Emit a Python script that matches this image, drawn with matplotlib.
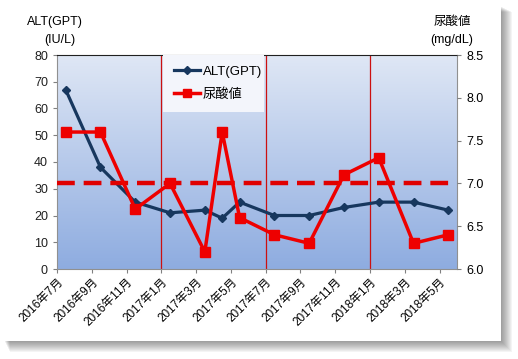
import numpy as np
import matplotlib.pyplot as plt
from matplotlib.patches import Rectangle
from matplotlib.colors import LinearSegmentedColormap

plt.rcParams['font.family'] = ['Liberation Sans', 'Noto Sans CJK JP']

# data (year, month) of each measurement
dates = [(2016, 7), (2016, 9), (2016, 11), (2017, 1), (2017, 3), (2017, 4), (2017, 5),
         (2017, 7), (2017, 9), (2017, 11), (2018, 1), (2018, 3), (2018, 5)]
alt = [67, 38, 25, 21, 22, 19, 25, 20, 20, 23, 25, 25, 22]
uric = [7.6, 7.6, 6.7, 7.0, 6.2, 7.6, 6.6, 6.4, 6.3, 7.1, 7.3, 6.3, 6.4]
tick_labels = ['2016年7月', '2016年9月', '2016年11月', '2017年1月', '2017年3月', '2017年5月',
               '2017年7月', '2017年9月', '2017年11月', '2018年1月', '2018年3月', '2018年5月']
uric_limit = 7.0
marker_months = [(2017, 1), (2017, 7), (2018, 1)]


def month_pos(y, m):
    return (y - 2016) * 12 + (m - 7)


x = [month_pos(y, m) + 0.5 for y, m in dates]

W, H = 518, 359
fig = plt.figure(figsize=(W / 100, H / 100), dpi=100)
fig.patch.set_facecolor('white')

# soft drop shadow behind the white card
for k in range(11):
    ext = 11 - k
    x0, y0 = 4 + ext * 0.5, 6 + ext * 0.5
    x1, y1 = 501 + ext, 341 + ext
    fig.patches.append(Rectangle((x0 / W, 1 - y1 / H), (x1 - x0) / W, (y1 - y0) / H,
                                 transform=fig.transFigure, facecolor='#303030', alpha=0.05,
                                 edgecolor='none', zorder=0))
fig.patches.append(Rectangle((0, 1 - 341 / H), 501 / W, 341 / H, transform=fig.transFigure,
                             facecolor='white', edgecolor='none', zorder=1))

ax = fig.add_axes([57 / W, 1 - 269 / H, 400 / W, 214 / H])
ax.set_zorder(2)
ax.patch.set_alpha(0)

# gradient background
grad = np.linspace(0, 1, 256).reshape(-1, 1)
cmap = LinearSegmentedColormap.from_list('bg', ['#dfe7f5', '#8eace0'])
ax.imshow(grad, aspect='auto', cmap=cmap, extent=[0, 1, 0, 1], transform=ax.transAxes, zorder=0)

ax.set_xlim(0, 23)
ax.set_ylim(0, 80)
ax.set_yticks(range(0, 81, 10))
ax.set_xticks(range(0, 23, 2))
ax.set_xticklabels(tick_labels, rotation=45, ha='right', rotation_mode='anchor', fontsize=8.5)
ax.tick_params(axis='y', labelsize=9, length=3, color='#808080', colors='#202020')
ax.tick_params(axis='x', length=3, color='#808080', pad=2)
for s in ['left', 'bottom', 'right']:
    ax.spines[s].set_color('#909090')
ax.spines['top'].set_color('#202020')

for y, m in marker_months:
    ax.axvline(month_pos(y, m), color='#cc1010', lw=0.9, zorder=1)

ax2 = ax.twinx()
ax2.set_ylim(6.0, 8.5)
ax2.set_yticks(np.arange(6.0, 8.51, 0.5))
ax2.set_yticklabels([f'{v:.1f}' for v in np.arange(6.0, 8.51, 0.5)])
ax2.tick_params(axis='y', labelsize=9, length=3, color='#808080')
for s in ax2.spines.values():
    s.set_visible(False)

ax2.axhline(uric_limit, color='#e00000', lw=3.2, dashes=(4, 2), zorder=2)

l1, = ax.plot(x, alt, color='#17375e', lw=2.3, marker='D', ms=4.5, zorder=3)
l2, = ax2.plot(x, uric, color='#ee0000', lw=2.5, marker='s', ms=7, zorder=3)

lx0 = month_pos(2017, 1) / 23 + 0.005
lx1 = month_pos(2017, 7) / 23 - 0.005
leg = ax2.legend([l1, l2], ['ALT(GPT)', '尿酸値'], loc='upper left', mode='expand',
                 bbox_to_anchor=(lx0, 0.5, lx1 - lx0, 0.5), fontsize=9.5,
                 frameon=True, fancybox=False, handlelength=2.0, borderpad=0.8,
                 labelspacing=0.8, handletextpad=0.2, borderaxespad=0, markerscale=0.8)
leg.get_frame().set_facecolor('#f3f5fb')
leg.get_frame().set_edgecolor('none')
leg.get_frame().set_alpha(1)
leg.set_zorder(5)

fig.text(27 / W, 1 - 22 / H, 'ALT(GPT)', fontsize=9, va='center', ha='left')
fig.text(60 / W, 1 - 40 / H, '(IU/L)', fontsize=9, va='center', ha='center')
fig.text(452 / W, 1 - 22 / H, '尿酸値', fontsize=9, va='center', ha='center')
fig.text(452 / W, 1 - 40 / H, '(mg/dL)', fontsize=9, va='center', ha='center')

fig.savefig('out.png', dpi=100)
